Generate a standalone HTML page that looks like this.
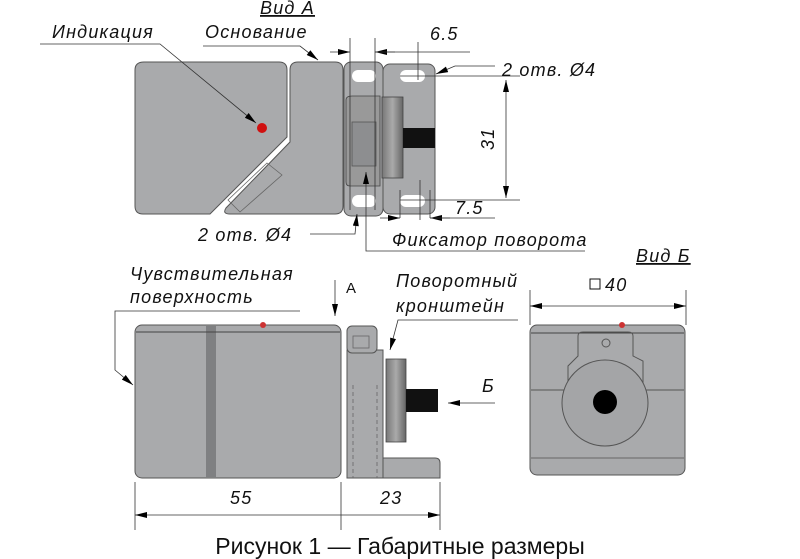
<!DOCTYPE html>
<html><head><meta charset="utf-8"><style>
body{margin:0;background:#fff;width:800px;height:559px;overflow:hidden}
svg{display:block}
.t{font-family:"Liberation Sans","DejaVu Sans",sans-serif;font-style:italic;font-size:18px;letter-spacing:1.2px;fill:#111}
.b{fill:#a9aaac;stroke:#555;stroke-width:1}
.l{stroke:#333;stroke-width:0.8;fill:none}
</style></head><body>
<svg width="800" height="559" viewBox="0 0 800 559" xmlns="http://www.w3.org/2000/svg">
<defs>
<marker id="a" viewBox="0 0 12 6" refX="12" refY="3" markerWidth="13" markerHeight="6" markerUnits="userSpaceOnUse" orient="auto-start-reverse"><path d="M0,0L12,3L0,6z" fill="#000"/></marker>
<linearGradient id="cy" x1="0" x2="1"><stop offset="0" stop-color="#777"/><stop offset=".5" stop-color="#aaa"/><stop offset="1" stop-color="#666"/></linearGradient>
</defs>
<!-- TOP VIEW -->
<path class="b" d="M144,62H279Q287,62 287,70V137L210,214H143Q135,214 135,206V70Q135,62 144,62z"/>
<path class="b" d="M298,62H335Q343,62 343,70V206Q343,214 335,214H230Q222,214 226,208L290,142V70Q290,62 298,62z"/>
<path d="M267,163L282,175L240,212L228,200z" fill="none" stroke="#666" stroke-width="0.8"/>
<circle cx="262" cy="128" r="5" fill="#d01010"/>
<rect class="b" x="383" y="64" width="52" height="150" rx="7"/>
<rect class="b" x="344" y="62" width="39" height="154" rx="7"/>
<rect x="382" y="97" width="21" height="81" fill="url(#cy)" stroke="#444" stroke-width=".8"/>
<path d="M346,100Q346,96 352,96H380V186H350Q346,186 346,182z" fill="#999" stroke="#444" stroke-width=".8"/>
<rect x="352" y="122" width="24" height="44" fill="#8d8e90" stroke="#555" stroke-width=".8"/>
<rect x="403" y="128" width="32" height="20" fill="#111"/>
<rect x="352" y="70" width="24" height="12" rx="6" fill="#fff"/>
<rect x="400" y="70" width="25" height="12" rx="6" fill="#fff"/>
<rect x="352" y="195" width="24" height="12" rx="6" fill="#fff"/>
<rect x="400" y="195" width="25" height="12" rx="6" fill="#fff"/>
<!-- top view dims -->
<path class="l" d="M350,38V210M375,38V210M418,42V80M420,180V220M400,190V218M430,190V218"/>
<path class="l" d="M330,52H350" marker-end="url(#a)"/><path class="l" d="M395,52H375" marker-end="url(#a)"/><path class="l" d="M375,52H470"/>
<path class="l" d="M400,76H520M400,200H520"/>
<path class="l" d="M506,80V198" marker-start="url(#a)" marker-end="url(#a)"/>
<path class="l" d="M380,218H400" marker-end="url(#a)"/><path class="l" d="M450,218H430" marker-end="url(#a)"/><path class="l" d="M430,218H495"/>
<text class="t" x="430" y="40">6.5</text>
<text class="t" x="0" y="0" transform="translate(494,150) rotate(-90)">31</text>
<text class="t" x="455" y="214">7.5</text>
<text class="t" x="502" y="76">2 отв. Ø4</text>
<path class="l" d="M495,66H455L436,74" marker-end="url(#a)"/>
<text class="t" x="198" y="241">2 отв. Ø4</text>
<path class="l" d="M310,234H355L357,214" marker-end="url(#a)"/>
<text class="t" x="392" y="246">Фиксатор поворота</text>
<path class="l" d="M585,251H366V172" marker-end="url(#a)"/>
<text class="t" x="52" y="38">Индикация</text>
<path class="l" d="M40,44H160L256,123" marker-end="url(#a)"/>
<text class="t" x="205" y="38">Основание</text>
<path class="l" d="M203,46H300L318,60" marker-end="url(#a)"/>
<text class="t" x="260" y="14" style="text-decoration:underline">Вид А</text>
<!-- SIDE VIEW -->
<rect class="b" x="135" y="325" width="206" height="153" rx="7"/>
<rect x="206" y="326" width="10" height="151" fill="#7f8082"/>
<path d="M136,332H340" stroke="#444"/>
<circle cx="263" cy="325" r="3" fill="#c33"/>
<path class="b" d="M383,458H435Q440,458 440,463V478H383z"/>
<path class="b" d="M347,350H383V478H347z"/>
<rect class="b" x="347" y="326" width="30" height="27" rx="5"/>
<rect x="353" y="336" width="16" height="12" fill="none" stroke="#666" stroke-width=".8"/>
<path d="M353,385V478M377,385V478" stroke="#666" stroke-dasharray="4 3" stroke-width=".8"/>
<rect x="386" y="359" width="20" height="83" fill="url(#cy)" stroke="#444" stroke-width=".8"/>
<rect x="406" y="389" width="32" height="23" fill="#111"/>
<path class="l" d="M135,482V530M341,482V530M440,482V530"/>
<path class="l" d="M135,515H341M341,515H440" marker-start="url(#a)" marker-end="url(#a)"/>
<text class="t" x="230" y="504">55</text>
<text class="t" x="380" y="504">23</text>
<text class="t" x="130" y="280">Чувствительная</text>
<text class="t" x="130" y="303">поверхность</text>
<path class="l" d="M300,311H115V370L133,385" marker-end="url(#a)"/>
<text class="t" x="346" y="293" style="font-style:normal;font-size:15px">A</text>
<path class="l" d="M335,280V316" marker-end="url(#a)"/>
<text class="t" x="396" y="287">Поворотный</text>
<text class="t" x="396" y="312">кронштейн</text>
<path class="l" d="M518,320H398L390,350" marker-end="url(#a)"/>
<text class="t" x="482" y="392">Б</text>
<path class="l" d="M495,403H448" marker-end="url(#a)"/>
<!-- VIEW B -->
<text class="t" x="636" y="262" style="text-decoration:underline">Вид Б</text>
<path class="l" d="M530,290V325M686,290V325"/>
<path class="l" d="M530,306H686" marker-start="url(#a)" marker-end="url(#a)"/>
<rect x="590" y="279" width="10" height="10" fill="none" stroke="#111"/>
<text class="t" x="605" y="291">40</text>
<rect class="b" x="530" y="325" width="155" height="150" rx="7"/>
<path d="M531,333H684" stroke="#444"/>
<circle cx="622" cy="325" r="3" fill="#c33"/>
<path d="M531,390H568V366L578,356V336Q578,332 583,332H628Q633,332 633,336V356L643,361V390H684" fill="none" stroke="#555"/>
<circle cx="606" cy="343" r="4" fill="none" stroke="#555"/>
<path d="M531,458H684" stroke="#666"/>
<circle cx="605" cy="403" r="43" fill="#a4a5a7" stroke="#555"/>
<circle cx="605" cy="402" r="12" fill="#000"/>
<!-- caption -->
<text x="400" y="554" text-anchor="middle" style="font-family:'Liberation Sans',sans-serif;font-size:23px;fill:#111">Рисунок 1 — Габаритные размеры</text>
</svg>
</body></html>
